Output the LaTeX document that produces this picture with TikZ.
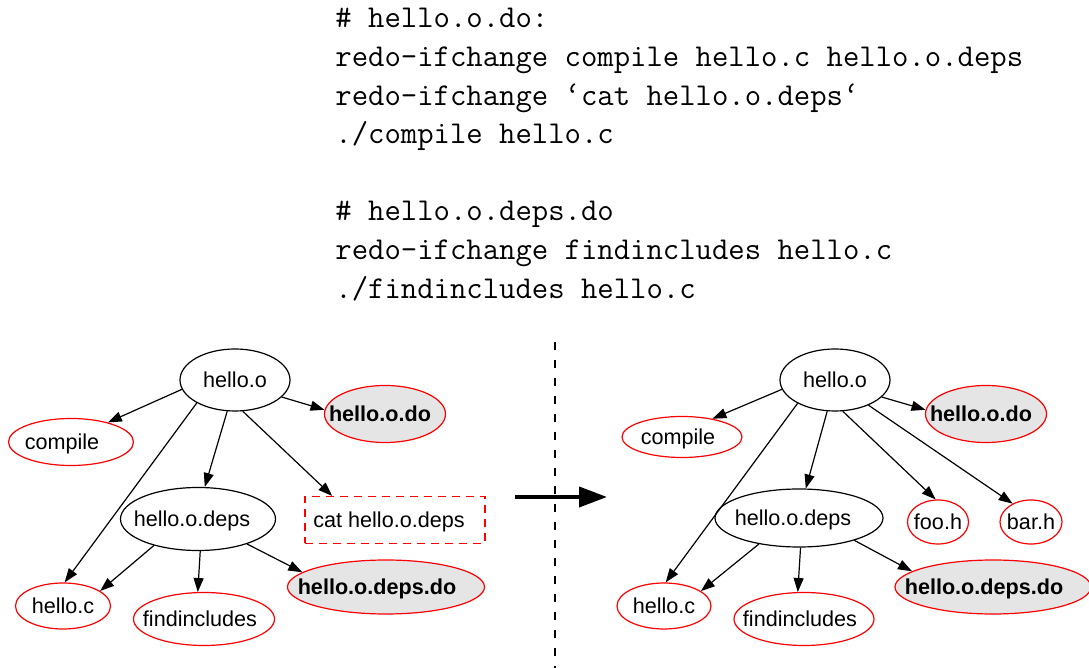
\documentclass[tikz,border=0pt]{standalone}
\usepackage{fontspec}
\newfontfamily\graphfont{Liberation Sans}
\usetikzlibrary{arrows.meta, shapes.geometric}

\begin{document}
\begin{tikzpicture}[
      x=0.5pt, y=-0.5pt,
      code/.style={
        anchor=base west, inner sep=0pt,
        font=\fontsize{15.9}{19}\selectfont\ttfamily
      },
      wh/.style 2 args={minimum width=#1*0.5pt, minimum height=#2*0.5pt},
      nudge/.style={execute at begin node={\hspace*{-#1}}},
      target/.style={
        ellipse, draw, line width=0.6pt,
        inner xsep=-40pt, inner ysep=-12pt, text depth=0pt,
        font=\graphfont\fontsize{10.8}{13}\selectfont
      },
      file/.style={target, draw=red},
      dofile/.style={
        file, fill=black!10,
        font=\graphfont\bfseries\fontsize{10.8}{13}\selectfont
      },
      cmd/.style={
        rectangle, draw=red, line width=0.6pt, inner sep=0pt, text depth=0pt,
        dash pattern=on 4pt off 3pt,
        font=\graphfont\fontsize{10.8}{13}\selectfont
      },
      dep/.style={-{Triangle[length=7pt,width=5pt]}, line width=0.6pt}
    ]
      \useasboundingbox (0,0) rectangle (1089,668);

      % the two .do scripts
      \node[code] (c1) at (335,28) {\# hello.o.do:};
      \node[code] (c2) at (335,66.6) {redo-ifchange compile hello.c hello.o.deps};
      \node[code] (c3) at (335,105.2) {redo-ifchange ‘cat hello.o.deps‘};
      \node[code] (c4) at (335,143.8) {./compile hello.c};
      \node[code] (c5) at (335,220.9) {\# hello.o.deps.do};
      \node[code] (c6) at (335,259.5) {redo-ifchange findincludes hello.c};
      \node[code] (c7) at (335,298.1) {./findincludes hello.c};

      % before
      \node[target, wh={110}{62}] (lo) at (235,380) {hello.o};
      \node[file, wh={125}{47}, nudge=9pt] (lcompile) at (71,442) {compile};
      \node[dofile, wh={121}{57}, nudge=5pt] (lodo) at (385,414) {hello.o.do};
      \node[target, wh={155}{63}, nudge=6pt] (ldeps) at (198,519) {hello.o.deps};
      \node[cmd, wh={180}{47}, nudge=6pt] (lcat) at (395,520) {cat hello.o.deps};
      \node[file, wh={95}{46}] (lhc) at (63,606) {hello.c};
      \node[file, wh={141}{53}, nudge=4pt] (lfind) at (204,619) {findincludes};
      \node[dofile, wh={197}{54}, nudge=9pt] (ldepsdo) at (386,587) {hello.o.deps.do};

      \draw[dep] (lo.190) -- (lcompile.28);
      \draw[dep] (lo.340) -- (lodo.176);
      \draw[dep] (lo.211) -- (lhc.86);
      \draw[dep] (lo.256) -- (ldeps.78);
      \draw[dep] (lo.284) -- (lcat.159);
      \draw[dep] (ldeps.211) -- (lhc.22);
      \draw[dep] (ldeps.274) -- (lfind.103);
      \draw[dep] (ldeps.333) -- (ldepsdo.170);

      % divider and arrow
      \coordinate (dtop) at (555,342);
      \coordinate (dbot) at (555,668);
      \draw[line width=0.6pt, dash pattern=on 4pt off 5pt] (dtop) -- (dbot);
      \coordinate (afrom) at (515,497);
      \coordinate (ato) at (607,497);
      \draw[-{Triangle[length=14pt,width=10pt]}, line width=2pt] (afrom) -- (ato);

      % after
      \node[target, wh={110}{62}] (ro) at (835,380) {hello.o};
      \node[file, wh={120}{41}, nudge=4pt] (rcompile) at (682,437) {compile};
      \node[dofile, wh={121}{57}, nudge=5pt] (rodo) at (986,414) {hello.o.do};
      \node[target, wh={168}{58}, nudge=6pt] (rdeps) at (799,518) {hello.o.deps};
      \node[file, wh={61}{44}] (rfoo) at (938,522) {foo.h};
      \node[file, wh={62}{44}] (rbar) at (1031,522) {bar.h};
      \node[file, wh={94}{46}] (rhc) at (664,606) {hello.c};
      \node[file, wh={140}{53}, nudge=4pt] (rfind) at (804,619) {findincludes};
      \node[dofile, wh={196}{54}, nudge=9pt] (rdepsdo) at (993,587) {hello.o.deps.do};

      \draw[dep] (ro.190) -- (rcompile.31);
      \draw[dep] (ro.340) -- (rodo.176);
      \draw[dep] (ro.212) -- (rhc.86);
      \draw[dep] (ro.256) -- (rdeps.77);
      \draw[dep] (ro.284) -- (rfoo.96);
      \draw[dep] (ro.323) -- (rbar.135);
      \draw[dep] (rdeps.213) -- (rhc.22);
      \draw[dep] (rdeps.273) -- (rfind.103);
      \draw[dep] (rdeps.338) -- (rdepsdo.169);
    \end{tikzpicture}
\end{document}
